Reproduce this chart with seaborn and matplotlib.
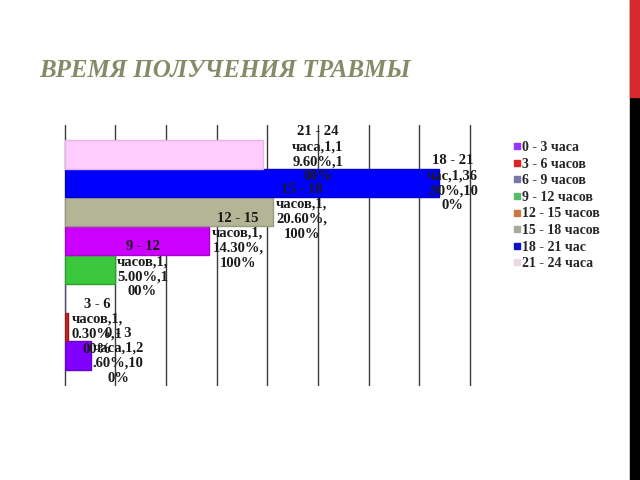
import matplotlib
matplotlib.use("Agg")
import matplotlib.pyplot as plt
import seaborn as sns
import pandas as pd
from matplotlib.lines import Line2D
from matplotlib.patches import Rectangle

# ---- data ----
categories = ["0 - 3 часа", "3 - 6 часов", "6 - 9 часов", "9 - 12 часов",
              "12 - 15 часов", "15 - 18 часов", "18 - 21 час", "21 - 24 часа"]
percent = [2.6, 0.3, 0.0, 5.0, 14.3, 20.6, 36.9, 19.6]
counts = [1, 1, 1, 1, 1, 1, 1, 1]
shares = [100, 100, 100, 100, 100, 100, 100, 100]
title = "ВРЕМЯ ПОЛУЧЕНИЯ ТРАВМЫ"

# ---- styles ----
bar_colors = ["#8000FF", "#C0282D", "#7070A8", "#3CC83C",
              "#CC00FF", "#B4B496", "#0000FF", "#FFCCFF"]
edge_colors = ["#6A00D0", "#A01818", "#505080", "#2AA02A",
               "#A800D0", "#9A9A7E", "#0000C8", "#E8B4E8"]
legend_colors = ["#9933FF", "#DD2222", "#7777AA", "#55BB66",
                 "#CC7744", "#AAAA99", "#1111CC", "#EED8E8"]
label_dx = [2.7, 2.9, 0.0, 2.7, 2.8, 2.8, 1.4, 5.4]

sns.set_theme(style="white")
plt.rcParams["font.family"] = ["Liberation Serif", "DejaVu Serif"]

df = pd.DataFrame({"cat": categories, "pct": percent})
order = categories[::-1]

fig = plt.figure(figsize=(6.4, 4.8), dpi=100)
ax = fig.add_axes([64.5 / 640, 1 - 385 / 480, (470 - 64.5) / 640, 260 / 480])

sns.barplot(data=df, y="cat", x="pct", order=order, hue="cat",
            hue_order=categories, palette=dict(zip(categories, bar_colors)),
            dodge=False, width=1.0, legend=False, saturation=1, ax=ax,
            linewidth=1)

for p in ax.patches:
    yc = p.get_y() + p.get_height() / 2
    idx = int(round(yc))
    if 0 <= idx < len(order):
        ci = categories.index(order[idx])
        p.set_edgecolor(edge_colors[ci])

ax.set_xlim(0, 40)
ax.set_ylim(7.5 + 0.52, -0.5 - 0.52)
ax.set_xticks(range(0, 41, 5))
ax.set_yticks([])
ax.tick_params(length=0, labelbottom=False, labelleft=False)
ax.set_xlabel("")
ax.set_ylabel("")
for s in ax.spines.values():
    s.set_visible(False)
ax.xaxis.grid(True, color="#3a3a3a", linewidth=1)
ax.set_axisbelow(True)
for gl in ax.get_xgridlines():
    gl.set_clip_on(False)

# data labels
for i, cat in enumerate(categories):
    if percent[i] == 0:
        continue
    parts = cat.split(" ")
    head = " ".join(parts[:3])
    rest = f"{parts[3]},{counts[i]},{percent[i]:.2f}%,{shares[i]}%"
    txt = "\n".join([head, rest[:8], rest[8:15], rest[15:]])
    ax.text(percent[i] + label_dx[i], order.index(cat), txt,
            ha="center", va="center", fontsize=10.5, fontweight="bold",
            color="#1a1a1a", linespacing=1.2, clip_on=False, zorder=5)

# legend
handles = [Line2D([], [], marker="s", linestyle="", markersize=4.5,
                  color=c) for c in legend_colors]
fig.legend(handles, categories, loc="upper left",
           bbox_to_anchor=(514 / 640, 1 - 141 / 480), frameon=False,
           prop={"family": "Liberation Serif", "weight": "bold", "size": 10},
           handlelength=0.5, handletextpad=0.1, labelspacing=0.26,
           borderpad=0, borderaxespad=0)

# title
fig.text(39 / 640, 1 - 77 / 480, title, fontsize=18, fontstyle="italic",
         fontweight="bold", color="#858B66", va="baseline", ha="left")

# right decorative strip
fig.add_artist(Rectangle((630 / 640, 0), 10 / 640, 1,
                         transform=fig.transFigure, color="black", zorder=0))
fig.add_artist(Rectangle((630 / 640, 1 - 97 / 480), 10 / 640, 97 / 480,
                         transform=fig.transFigure, color="#D7282E", zorder=1))

fig.savefig("out.png", dpi=100)
